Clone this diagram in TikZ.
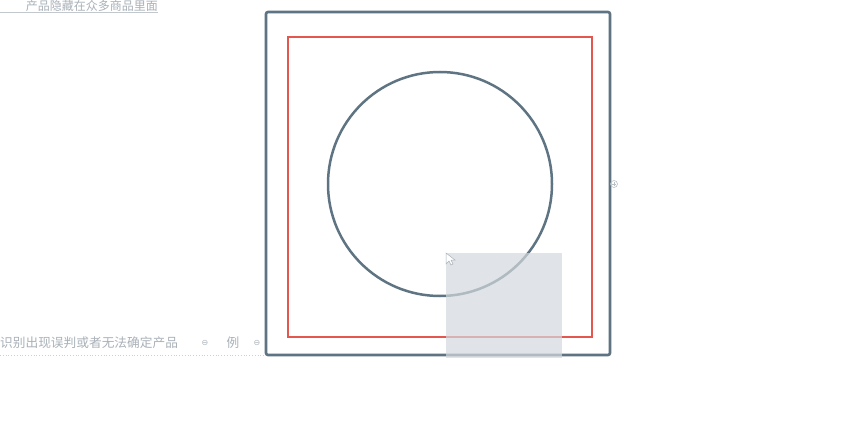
\documentclass[tikz,border=0pt]{standalone}
\usepackage{fontspec}
\usepackage{tikz}
\usetikzlibrary{positioning,calc}
\newfontfamily\cjk{Noto Sans CJK SC}
\newfontfamily\symfont{DejaVu Sans}
\definecolor{Slate}{HTML}{5F7482}
\definecolor{Frame}{HTML}{E4574F}
\definecolor{Hint}{HTML}{A9B1B8}
\definecolor{Shade}{HTML}{D3D8DD}

\begin{document}
\begin{tikzpicture}[x=1pt,y=-1pt,
    box/.style={draw=Slate,line width=2.6pt,rounded corners=2pt},
    redbox/.style={draw=Frame,line width=1.3pt},
    ring/.style={draw=Slate,line width=2.5pt},
    hint/.style={inner sep=0pt,text=Hint,font=\cjk\fontsize{12.7}{13}\selectfont},
    sel/.style={fill=Shade,fill opacity=0.7,draw=none}]
    \useasboundingbox[fill=white] (0,0) rectangle (854,444);
    % faded text behind the canvas
    \node[hint,anchor=east,font=\cjk\fontsize{12}{12}\selectfont] (top) at (158,6) {产品隐藏在众多商品里面};
    \draw[Hint!70,line width=0.8pt] (0,12.5) -- (158,12.5);
    \node[hint,anchor=west] (low) at (0,343) {识别出现误判或者无法确定产品};
    \node[hint,font=\symfont\fontsize{8}{9}\selectfont] (ia) at (205,343) {⊖};
    \node[hint] (li) at (233,343) {例};
    \node[hint,font=\symfont\fontsize{8}{9}\selectfont] (ib) at (257,343) {⊖};
    \draw[Hint!60,line width=0.8pt,dotted] (0,355) -- (265,355);
    % canvas shapes
    \draw[box] (266,12) rectangle (610,355);
    \draw[redbox] (288,37) rectangle (592,337);
    \draw[ring] (440,184) circle[radius=112];
    \fill[sel] (446,253) rectangle (562,358);
    \draw[Hint,fill=white,line width=0.5pt] (446,253) -- ++(0,11) -- ++(3,-3) -- ++(2,4) -- ++(2,-1) -- ++(-2,-4) -- ++(4,0) -- cycle;
    \draw[Hint!80,line width=0.6pt] (614,184) circle[radius=3.5];
    \draw[Hint!80,line width=0.6pt] (612,184) -- (616,184) (614,182) -- (614,186);
  \end{tikzpicture}
\end{document}
